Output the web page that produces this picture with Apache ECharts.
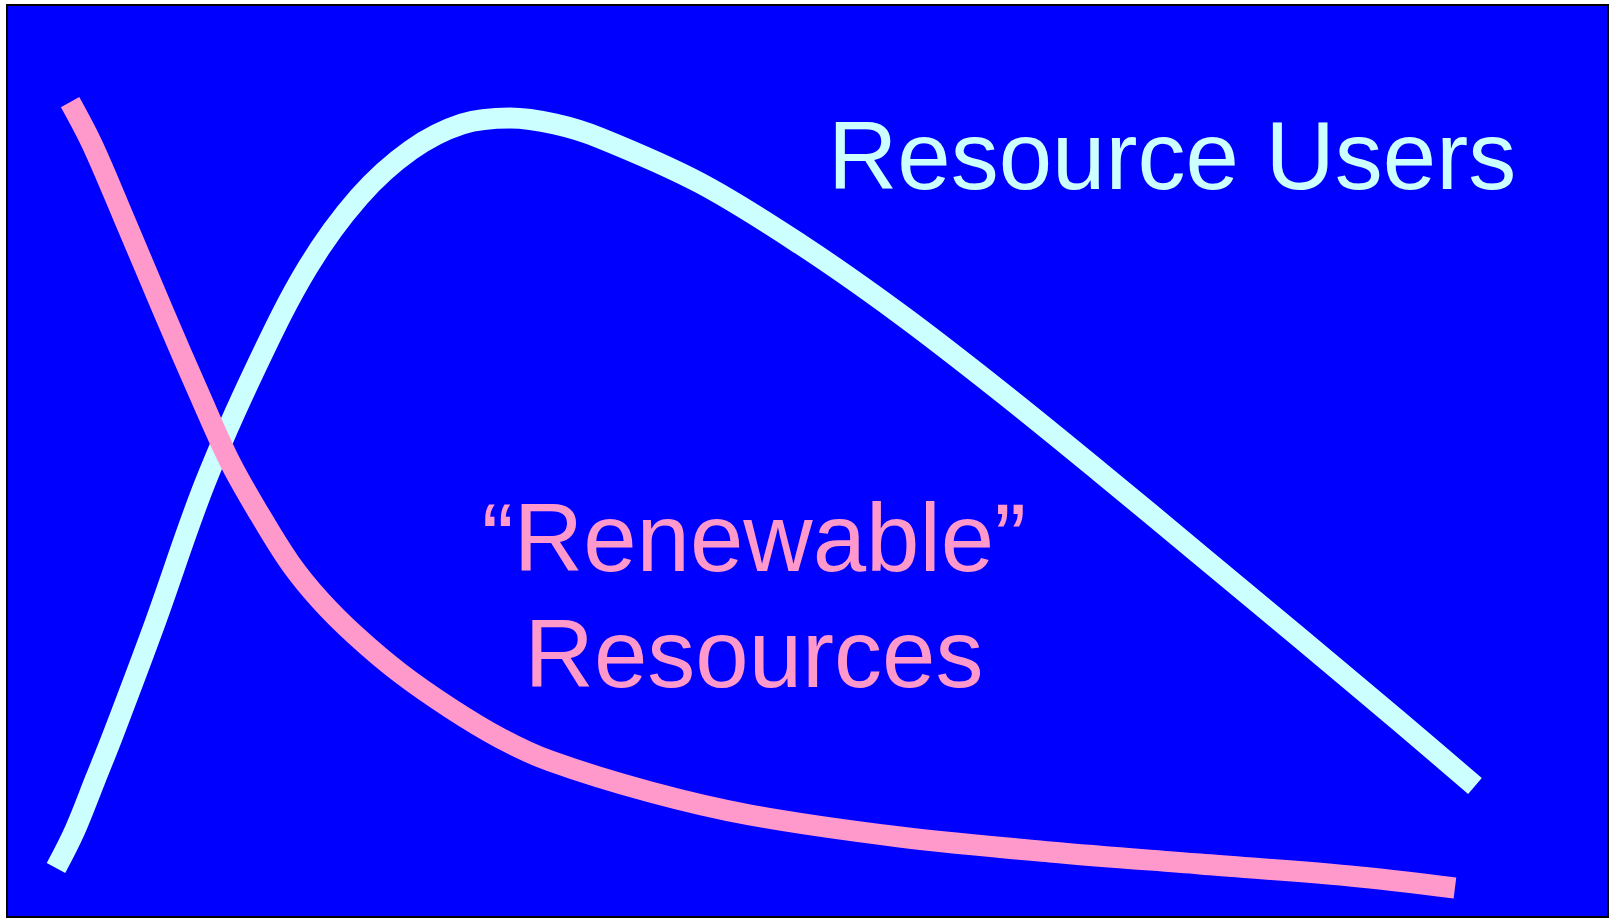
<!DOCTYPE html>
<html>
<head>
<meta charset="utf-8">
<style>
  html, body { margin: 0; padding: 0; background: #ffffff; }
  #chart { width: 1610px; height: 919px; }
</style>
<script src="https://cdn.jsdelivr.net/npm/echarts@6/dist/echarts.min.js"></script>
</head>
<body>
<div id="chart"></div>
<script>
// Time (0-100) vs relative level (0-100)
var usersTime   = [3.06, 4.25, 5.50, 6.62, 9.18, 12.37, 15.62, 18.80, 21.99, 25.23, 28.42, 31.42, 34.23, 37.04, 43.29, 49.53, 55.78, 62.02, 68.27, 74.52, 80.76, 87.01, 91.69];
var usersLevel  = [5.37, 9.54, 15.02, 19.96, 31.91, 47.59, 60.53, 71.27, 78.95, 84.10, 86.95, 87.61, 86.95, 85.42, 80.48, 73.79, 66.12, 57.68, 48.79, 39.69, 30.59, 21.38, 14.36];

var resTime     = [3.94, 5.31, 7.25, 9.81, 12.06, 13.93, 15.80, 17.68, 19.55, 21.74, 24.55, 27.67, 30.79, 33.92, 40.16, 46.41, 55.78, 65.15, 74.52, 83.89, 90.44];
var resLevel    = [89.36, 84.76, 76.86, 66.23, 57.13, 49.89, 44.08, 38.82, 34.76, 30.92, 26.75, 22.92, 19.63, 17.11, 13.71, 11.18, 8.77, 7.13, 5.81, 4.50, 3.18];

var labelUsers = 'Resource Users';
var labelRes1  = '\u201CRenewable\u201D';
var labelRes2  = 'Resources';

function pairs(xs, ys) { return xs.map(function (x, i) { return [x, ys[i]]; }); }

var chart = echarts.init(document.getElementById('chart'), null, { renderer: 'canvas' });
var font = '"Liberation Sans", Arial, sans-serif';

chart.setOption({
  backgroundColor: '#ffffff',
  animation: false,
  grid: {
    left: 7, top: 5, right: 2, bottom: 2,
    show: true,
    backgroundColor: '#0000FF',
    borderColor: '#000000',
    borderWidth: 2
  },
  xAxis: { type: 'value', min: 0, max: 100, show: false },
  yAxis: { type: 'value', min: 0, max: 100, show: false },
  series: [
    {
      name: labelUsers,
      type: 'line',
      data: pairs(usersTime, usersLevel),
      smooth: 0.35,
      showSymbol: false,
      symbol: 'none',
      lineStyle: { color: '#CCFFFF', width: 21, cap: 'butt', join: 'round' }
    },
    {
      name: 'Renewable Resources',
      type: 'line',
      data: pairs(resTime, resLevel),
      smooth: 0.35,
      showSymbol: false,
      symbol: 'none',
      lineStyle: { color: '#FF99CC', width: 21, cap: 'butt', join: 'round' }
    }
  ],
  graphic: [
    {
      type: 'text', x: 828, y: 163,
      style: { text: labelUsers, fill: '#CCFFFF', font: '96px ' + font, textAlign: 'left', textVerticalAlign: 'middle' }
    },
    {
      type: 'text', x: 754, y: 545,
      style: { text: labelRes1, fill: '#FF99CC', font: '96px ' + font, textAlign: 'center', textVerticalAlign: 'middle' }
    },
    {
      type: 'text', x: 754, y: 661,
      style: { text: labelRes2, fill: '#FF99CC', font: '96px ' + font, textAlign: 'center', textVerticalAlign: 'middle' }
    }
  ]
});
</script>
</body>
</html>
